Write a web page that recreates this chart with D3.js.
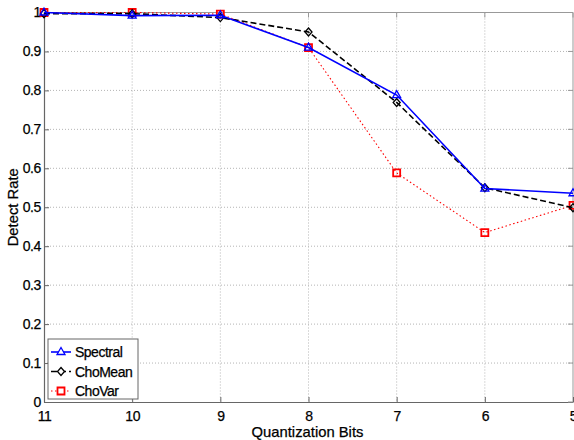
<!DOCTYPE html>
<html>
<head>
<meta charset="utf-8">
<script src="https://cdn.jsdelivr.net/npm/d3@7"></script>
<style>
  html, body { margin: 0; padding: 0; background: #fff; }
  svg { display: block; font-family: "Liberation Sans", Arial, sans-serif; }
  text { stroke: #000; stroke-width: 0.25px; }
</style>
</head>
<body>
<svg id="chart" width="574" height="440"></svg>
<script>
// Quantization bits on the x axis (drawn from 11 down to 5)
const bits = [11, 10, 9, 8, 7, 6, 5];
const spectral = [1.0, 0.992, 0.993, 0.91, 0.788, 0.548, 0.536];
const choMean  = [0.997, 0.997, 0.987, 0.95, 0.769, 0.55, 0.499];
const choVar   = [1.0, 1.0, 0.996, 0.91, 0.588, 0.435, 0.505];
const yTicks = [0, 0.1, 0.2, 0.3, 0.4, 0.5, 0.6, 0.7, 0.8, 0.9, 1];
const yTickLabels = ["0", "0.1", "0.2", "0.3", "0.4", "0.5", "0.6", "0.7", "0.8", "0.9", "1"];

const series = [
  { name: "Spectral", values: spectral, color: "#0000ff", dash: null, width: 1.6, marker: "triangle" },
  { name: "ChoMean", values: choMean, color: "#000000", dash: "6,3", width: 1.6, marker: "diamond" },
  { name: "ChoVar", values: choVar, color: "#ff0000", dash: "1.5,2.5", width: 1.1, marker: "square" }
];

const svg = d3.select("#chart");
const pLeft = 44, pRight = 573, pTop = 12.5, pBottom = 402;

const x = d3.scaleLinear().domain([11, 5]).range([pLeft, pRight]);
const y = d3.scaleLinear().domain([0, 1]).range([pBottom, pTop]);

// Grid
const grid = svg.append("g");
grid.selectAll("line.gx").data(bits.slice(1, -1)).join("line")
  .attr("x1", d => x(d)).attr("x2", d => x(d))
  .attr("y1", pTop).attr("y2", pBottom)
  .attr("stroke", "#b4b4b4").attr("stroke-width", 1).attr("stroke-dasharray", "1,2");
grid.selectAll("line.gy").data(yTicks.slice(1, -1)).join("line")
  .attr("y1", d => y(d)).attr("y2", d => y(d))
  .attr("x1", pLeft).attr("x2", pRight)
  .attr("stroke", "#b4b4b4").attr("stroke-width", 1).attr("stroke-dasharray", "1,2");

// Box frame: top/right lighter
svg.append("line").attr("x1", pLeft).attr("x2", pRight).attr("y1", pTop).attr("y2", pTop)
  .attr("stroke", "#999").attr("stroke-width", 1);
svg.append("line").attr("x1", pRight).attr("x2", pRight).attr("y1", pTop).attr("y2", pBottom)
  .attr("stroke", "#999").attr("stroke-width", 1);

// Axes with inward ticks
const xAxis = d3.axisBottom(x).tickValues(bits).tickFormat(d3.format("d")).tickSizeInner(-5).tickSizeOuter(0).tickPadding(9);
const gx = svg.append("g").attr("transform", `translate(0,${pBottom})`).call(xAxis);
const yAxis = d3.axisLeft(y).tickValues(yTicks).tickFormat((d, i) => yTickLabels[i]).tickSizeInner(-5).tickSizeOuter(0).tickPadding(3);
const gy = svg.append("g").attr("transform", `translate(${pLeft},0)`).call(yAxis);
[gx, gy].forEach(g => {
  g.select(".domain").attr("stroke", "#666").attr("stroke-width", 1.2);
  g.selectAll(".tick line").attr("stroke", "#666");
  g.selectAll("text").attr("fill", "#000").attr("font-size", 14)
    .attr("letter-spacing", "-0.4px")
    .attr("font-family", "'Liberation Sans', Arial, sans-serif");
});
gx.selectAll(".tick text").attr("dy", "0.71em");

// Top / right tick marks
svg.append("g").selectAll("line").data(bits).join("line")
  .attr("x1", d => x(d)).attr("x2", d => x(d)).attr("y1", pTop).attr("y2", pTop + 5)
  .attr("stroke", "#999");
svg.append("g").selectAll("line").data(yTicks).join("line")
  .attr("y1", d => y(d)).attr("y2", d => y(d)).attr("x1", pRight).attr("x2", pRight - 5)
  .attr("stroke", "#999");

// Marker shapes
function markerPath(type, cx, cy) {
  if (type === "triangle") {
    return `M${cx},${cy - 4.5}L${cx + 4},${cy + 2.5}L${cx - 4},${cy + 2.5}Z`;
  } else if (type === "diamond") {
    return `M${cx},${cy - 4}L${cx + 3.5},${cy}L${cx},${cy + 4}L${cx - 3.5},${cy}Z`;
  }
  return `M${cx - 3.5},${cy - 3.5}h7v7h-7Z`;
}

const line = d3.line().x((d, i) => x(bits[i])).y(d => y(d));

const plot = svg.append("g");
series.slice().reverse().forEach(s => {
  plot.append("path").datum(s.values)
    .attr("d", line)
    .attr("fill", "none")
    .attr("stroke", s.color)
    .attr("stroke-width", s.width)
    .attr("stroke-dasharray", s.dash);
  plot.append("g").selectAll("path").data(s.values).join("path")
    .attr("d", (d, i) => markerPath(s.marker, x(bits[i]), y(d)))
    .attr("fill", "none")
    .attr("stroke", s.color)
    .attr("stroke-width", s.marker === "square" ? 1.8 : 1.3);
});

// Axis titles
svg.append("text")
  .attr("x", (pLeft + pRight) / 2 - 1).attr("y", 437)
  .attr("text-anchor", "middle").attr("font-size", 14.8)
  .text("Quantization Bits");
svg.append("text")
  .attr("transform", `translate(18,${(pTop + pBottom) / 2}) rotate(-90)`)
  .attr("text-anchor", "middle").attr("font-size", 14.8)
  .text("Detect Rate");

// Legend
const legend = svg.append("g");
legend.append("rect")
  .attr("x", 48).attr("y", 339).attr("width", 90).attr("height", 60)
  .attr("fill", "#fff").attr("stroke", "#666").attr("stroke-width", 1);
series.forEach((s, i) => {
  const ly = 352 + i * 19.5;
  legend.append("line")
    .attr("x1", 51).attr("x2", 71).attr("y1", ly).attr("y2", ly)
    .attr("stroke", s.color).attr("stroke-width", s.width)
    .attr("stroke-dasharray", s.dash);
  legend.append("path")
    .attr("d", markerPath(s.marker, 61, ly))
    .attr("fill", "#fff")
    .attr("stroke", s.color).attr("stroke-width", s.marker === "square" ? 1.8 : 1.3);
  legend.append("text")
    .attr("x", 75).attr("y", ly).attr("dy", "0.36em")
    .attr("font-size", 14).attr("letter-spacing", "-0.5px").text(s.name);
});
</script>
</body>
</html>
